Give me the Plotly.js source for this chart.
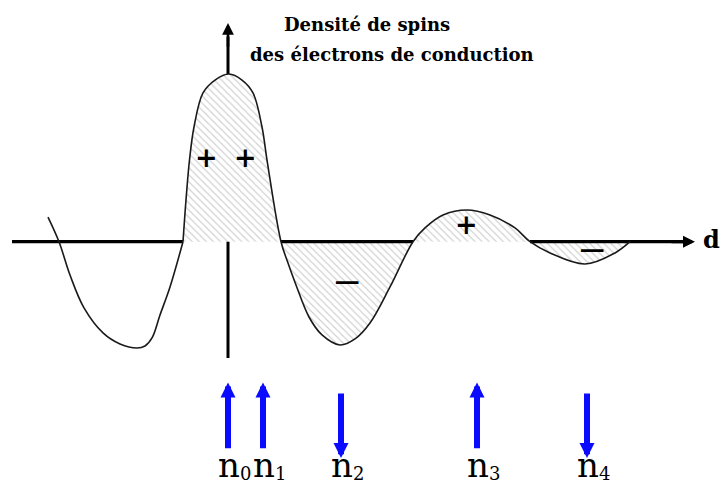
<!DOCTYPE html>
<html>
<head>
<meta charset="utf-8">
<script src="https://cdn.plot.ly/plotly-3.0.1.min.js"></script>
<style>
  html, body { margin: 0; padding: 0; background: #ffffff; }
  #chart { width: 721px; height: 486px; }
</style>
</head>
<body>
<div id="chart"></div>
<script>
// Spin density of the conduction electrons (RKKY oscillation) versus distance d
// from the magnetic ion placed at d = 0.

// Oscillation on the left of the ion (drawn without shading)
const leftD   = [-3.60, -3.38, -3.16, -2.88, -2.50, -2.16, -1.82, -1.66, -1.52, -1.36, -1.16, -0.90];
const leftRho = [0.147, 0, -0.199, -0.395, -0.544, -0.610, -0.634, -0.622, -0.574, -0.437, -0.270, 0];

// Oscillation on the right of the ion (shaded lobes)
const mainD   = [-0.90, -0.84, -0.77, -0.68, -0.50, -0.26, 0.02, 0.28, 0.50, 0.68, 0.78,
                 1.06, 1.20, 1.36, 1.62, 1.88, 2.24, 2.54, 2.84, 3.24,
                 3.70, 3.94, 4.30, 4.78, 5.24, 5.74, 6.04, 6.44, 7.14, 7.74, 8.04];
const mainRho = [0, 0.249, 0.487, 0.684, 0.887, 0.964, 1.0, 0.964, 0.887, 0.684, 0.487,
                 0, -0.127, -0.258, -0.449, -0.556, -0.616, -0.580, -0.485, -0.270,
                 0, 0.082, 0.159, 0.189, 0.159, 0.082, 0, -0.067, -0.133, -0.067, 0];

// Localised moments n0 ... n4 and the orientation of their spins
const siteD     = [0, 0.70, 2.26, 4.98, 7.18];
const siteSpin  = [1, 1, -1, 1, -1];
const siteIndex = ['0', '1', '2', '3', '4'];

// Sign of the density in each lobe
const signText = ['+', '+', '\u2212', '+', '\u2212'];
const signD    = [-0.44, 0.34, 2.37, 4.76, 7.27];
const signRho  = [0.493, 0.493, -0.252, 0.088, -0.061];

const SERIF = 'DejaVu Serif';
const AXIS_START = -4.32, AXIS_END = 9.34;
const V_BOTTOM = -0.694, V_TOP = 1.304;

// Horizontal axis: hidden where the positive lobes lie over it
const zeros = mainD.filter((d, i) => mainRho[i] === 0);
const axisX = [AXIS_START, zeros[0]];
const axisY = [0, 0];
for (let k = 1; k < zeros.length; k++) {
  const i0 = mainD.indexOf(zeros[k - 1]);
  const positive = mainRho[i0 + 1] > 0;
  if (!positive) { axisX.push(zeros[k - 1], zeros[k]); axisY.push(0, 0); }
  axisX.push(null); axisY.push(null);
}
axisX.push(zeros[zeros.length - 1], AXIS_END - 0.2); axisY.push(0, 0);

const traces = [
  { // vertical axis (covered by the central lobe)
    x: [0, 0], y: [V_BOTTOM, V_TOP - 0.08], mode: 'lines',
    line: { color: '#000', width: 3 }, hoverinfo: 'skip'
  },
  { // hatched area between the curve and the axis
    x: mainD, y: mainRho, mode: 'lines', fill: 'tozeroy',
    line: { shape: 'spline', smoothing: 1, width: 0, color: 'rgba(0,0,0,0)' },
    fillcolor: '#ffffff',
    fillpattern: { shape: '\\', fgcolor: '#a0a0a0', bgcolor: '#ffffff', size: 5, solidity: 0.22, fillmode: 'overlay' },
    hoverinfo: 'skip'
  },
  { // horizontal axis
    x: axisX, y: axisY, mode: 'lines', connectgaps: false,
    line: { color: '#000', width: 3.2 }, hoverinfo: 'skip'
  },
  {
    x: leftD, y: leftRho, mode: 'lines',
    line: { shape: 'spline', smoothing: 1, color: '#1a1a1a', width: 1.6 }, hoverinfo: 'skip'
  },
  {
    x: mainD, y: mainRho, mode: 'lines',
    line: { shape: 'spline', smoothing: 1, color: '#1a1a1a', width: 1.6 }, hoverinfo: 'skip'
  }
];

const annotations = [];

// axis arrowheads
annotations.push({ x: AXIS_END, y: 0, ax: AXIS_END - 0.5, ay: 0, xref: 'x', yref: 'y', axref: 'x', ayref: 'y',
  text: '', showarrow: true, arrowhead: 2, arrowsize: 0.8, arrowwidth: 3, arrowcolor: '#000' });
annotations.push({ x: 0, y: V_TOP, ax: 0, ay: V_TOP - 0.15, xref: 'x', yref: 'y', axref: 'x', ayref: 'y',
  text: '', showarrow: true, arrowhead: 2, arrowsize: 0.9, arrowwidth: 2.6, arrowcolor: '#000' });

// axis labels
annotations.push({ x: AXIS_END, y: 0, xref: 'x', yref: 'y', xanchor: 'left', yanchor: 'middle',
  xshift: 6, yshift: 2, showarrow: false, text: '<b>d</b>',
  font: { family: SERIF, size: 24, color: '#000' } });
annotations.push({ x: 1.08, y: 1.296, xref: 'x', yref: 'y', xanchor: 'left', yanchor: 'middle',
  showarrow: false, text: '<b>Densité de spins</b>', font: { family: SERIF, size: 18, color: '#000' } });
annotations.push({ x: 0.40, y: 1.117, xref: 'x', yref: 'y', xanchor: 'left', yanchor: 'middle',
  showarrow: false, text: '<b>des électrons de conduction</b>', font: { family: SERIF, size: 18, color: '#000' } });

// + / − marks in the lobes
signText.forEach((t, i) => {
  const minus = t !== '+';
  annotations.push({ x: signD[i], y: signRho[i], xref: 'x', yref: 'y', xanchor: 'center', yanchor: 'middle',
    yshift: 2, showarrow: false, text: minus ? t : '<b>' + t + '</b>',
    font: { family: SERIF, size: minus ? 36 : 27, color: '#000' } });
});

// spin arrows and their labels
const ARROW_NEAR = -0.84, ARROW_FAR = -1.27;
siteD.forEach((d, i) => {
  const up = siteSpin[i] > 0;
  const near = up ? ARROW_NEAR : -0.896;
  annotations.push({ x: d, y: up ? near : ARROW_FAR - 0.02, ax: d, ay: up ? ARROW_FAR + 0.03 : near,
    xref: 'x', yref: 'y', axref: 'x', ayref: 'y', text: '', showarrow: true,
    arrowhead: 2, arrowsize: 0.5, arrowwidth: 6, arrowcolor: '#0a0aff' });
  annotations.push({ x: d, y: -1.3345, xref: 'x', yref: 'y', xanchor: 'center', yanchor: 'middle',
    xshift: 1, showarrow: false, text: 'n', font: { family: SERIF, size: 34, color: '#000' } });
  annotations.push({ x: d, y: -1.383, xref: 'x', yref: 'y', xanchor: 'center', yanchor: 'middle',
    xshift: 17, showarrow: false, text: siteIndex[i], font: { family: SERIF, size: 18, color: '#000' } });
});

const layout = {
  width: 721, height: 486,
  margin: { l: 0, r: 0, t: 0, b: 0 },
  paper_bgcolor: '#ffffff', plot_bgcolor: '#ffffff',
  showlegend: false,
  font: { family: SERIF },
  xaxis: { range: [-4.56, 9.86], visible: false, fixedrange: true },
  yaxis: { range: [-1.4568, 1.4413], visible: false, fixedrange: true },
  annotations: annotations
};

Plotly.newPlot('chart', traces, layout, { staticPlot: true, displayModeBar: false });
</script>
</body>
</html>
